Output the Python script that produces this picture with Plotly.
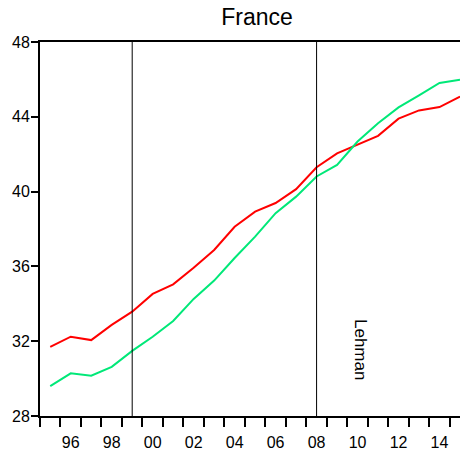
import plotly.graph_objects as go

years = list(range(1995, 2016))
red_values = [31.70, 32.24, 32.06, 32.87, 33.58, 34.53, 35.04, 35.93, 36.88, 38.12,
              38.93, 39.39, 40.13, 41.30, 42.04, 42.53, 42.98, 43.90, 44.34, 44.52, 45.08]
green_values = [29.60, 30.28, 30.15, 30.63, 31.48, 32.24, 33.08, 34.26, 35.24, 36.45,
                37.59, 38.85, 39.73, 40.81, 41.43, 42.68, 43.66, 44.50, 45.15, 45.81, 45.98]
event_years = [1999, 2008]
event_label = "Lehman"
event_label_pos = (2010.15, 31.55)
label_years = list(range(1996, 2015, 2))
label_text = [str(y)[2:] for y in label_years]
year_bounds = [y - 0.5 for y in range(1995, 2016)]
y_ticks = [28, 32, 36, 40, 44, 48]

FONT = "Liberation Sans, Arial, sans-serif"

fig = go.Figure()
fig.add_trace(go.Scatter(x=years, y=red_values, mode="lines",
                         line=dict(color="#FF0000", width=2), showlegend=False))
fig.add_trace(go.Scatter(x=years, y=green_values, mode="lines",
                         line=dict(color="#00E878", width=2), showlegend=False))

for ey in event_years:
    fig.add_shape(type="line", xref="x", yref="paper", x0=ey, x1=ey, y0=0, y1=1,
                  line=dict(color="black", width=1))

fig.add_annotation(x=event_label_pos[0], y=event_label_pos[1], text=event_label,
                   textangle=90, showarrow=False, font=dict(family=FONT, size=17, color="black"))

fig.update_layout(
    width=460, height=450,
    margin=dict(l=40, r=0, t=42, b=34),
    paper_bgcolor="white", plot_bgcolor="white",
    title=dict(text="France", x=257/460, xanchor="center", xref="container",
               y=1 - 17/450, yanchor="middle", yref="container",
               font=dict(family=FONT, size=23, color="black")),
    font=dict(family=FONT, size=15, color="black"),
)
fig.update_xaxes(range=[1994.5, 2015], showgrid=False, zeroline=False,
                 showline=True, linecolor="black", linewidth=2, mirror=True,
                 tickmode="array", tickvals=label_years, ticktext=label_text,
                 ticks="outside", ticklen=9, tickcolor="rgba(0,0,0,0)",
                 ticklabelstandoff=2,
                 minor=dict(tickmode="array", tickvals=year_bounds, ticks="outside",
                            ticklen=9, tickwidth=2, tickcolor="black", showgrid=False),
                 tickfont=dict(family=FONT, size=16, color="black"))
fig.update_yaxes(range=[28, 48], showgrid=False, zeroline=False,
                 showline=True, linecolor="black", linewidth=2,
                 tickmode="array", tickvals=y_ticks,
                 ticks="outside", ticklen=7, tickwidth=2, tickcolor="black",
                 ticklabelstandoff=-2,
                 tickfont=dict(family=FONT, size=16, color="black"))

fig.write_html("out.html")
